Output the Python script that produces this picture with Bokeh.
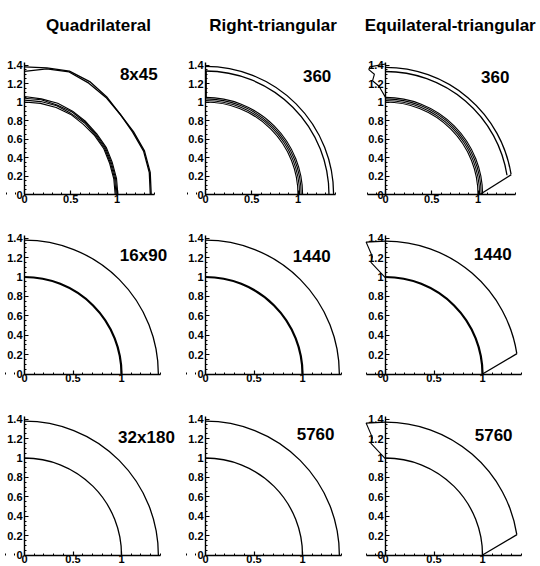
import numpy as np
from bokeh.plotting import figure
from bokeh.layouts import column, row
from bokeh.models import Range1d, FixedTicker, CustomJSTickFormatter
from bokeh.embed import file_html
from bokeh.resources import INLINE
from bokeh.core.properties import value

# ---------------- data ----------------
column_titles = ["Quadrilateral", "Right-triangular", "Equilateral-triangular"]
panel_labels = [["8x45", "360", "360"],
                ["16x90", "1440", "1440"],
                ["32x180", "5760", "5760"]]

x_ticks = [0, 0.5, 1]
x_tick_labels = ["0", "0.5", "1"]
y_ticks = [0, 0.2, 0.4, 0.6, 0.8, 1, 1.2, 1.4]
y_tick_labels = ["0", "0.2", "0.4", "0.6", "0.8", "1", "1.2", "1.4"]
x_minor_ticks = [-0.2, -0.1, 0, 0.1, 0.2, 0.3, 0.4, 0.5, 0.6, 0.7, 0.8, 0.9, 1.0, 1.1, 1.2, 1.3, 1.4]
y_minor_ticks = [0, 0.05, 0.1, 0.15, 0.2, 0.25, 0.3, 0.35, 0.4, 0.45, 0.5, 0.55, 0.6, 0.65,
                 0.7, 0.75, 0.8, 0.85, 0.9, 0.95, 1.0, 1.05, 1.1, 1.15, 1.2, 1.25, 1.3, 1.35, 1.4]

# Quadrilateral 8x45: contour radii read at these polar angles (degrees)
q8_angles = [90, 80, 70, 60, 50, 40, 30, 20, 10, 0]
q8_outer_a = [1.38, 1.39, 1.42, 1.41, 1.38, 1.35, 1.36, 1.38, 1.38, 1.37]
q8_outer_b = [1.33, 1.38, 1.41, 1.39, 1.37, 1.35, 1.35, 1.37, 1.37, 1.36]
q8_inner = [
    [1.06, 1.05, 1.05, 1.04, 1.03, 1.02, 1.02, 1.01, 1.01, 1.01],
    [1.04, 1.04, 1.03, 1.03, 1.02, 1.01, 1.01, 1.00, 1.00, 1.00],
    [1.02, 1.02, 1.02, 1.01, 1.01, 1.00, 1.00, 0.99, 0.99, 0.99],
    [1.00, 1.00, 1.00, 1.00, 0.99, 0.99, 0.99, 0.98, 0.98, 0.98],
]

# Right-triangular 360: contour rings and the contour running along the axis
rt360_outer_r = [1.335, 1.385]
rt360_inner_r = [1.0, 1.017, 1.034, 1.05]
rt360_wall_x = [0.006, 0.006]
rt360_wall_y = [1.05, 1.335]

# Equilateral-triangular 360
eq360_outer_r = [1.33, 1.375]
eq360_outer_start = [9.0, 9.2]
eq360_inner_r = [1.0, 1.017, 1.034, 1.05]
eq360_edge_x = [1.02, 1.36]
eq360_edge_y = [0.0, 0.215]
eq360_zig_x = [0.0, -0.17, -0.18, -0.12, -0.14, -0.07, 0.0]
eq360_zig_y = [1.41, 1.38, 1.35, 1.30, 1.23, 1.17, 1.05]

# finer meshes
fine_inner_r = [1.0]
fine_outer_r = [1.38]
eq_fine_outer_r = [1.37]
eq_fine_outer_start = [8.8]
eq_fine_edge_x = [1.0, 1.355]
eq_fine_edge_y = [0.0, 0.21]
eq_fine_zig_x = [0.0, -0.2, -0.135, -0.15, 0.0]
eq_fine_zig_y = [1.37, 1.36, 1.21, 1.15, 0.99]

# ---------------- layout geometry ----------------
COL_W = 180
ROW_H = [208, 180, 178]
ROW_SCALE = [92.5, 97.0, 97.0]        # pixels per data unit
AXIS_FROM_TOP = [194, 165.5, 166.5]   # pixel offset of y=0 inside each figure
AXIS_FROM_LEFT = [24, 25, 25]         # pixel offset of x=0 inside each figure

label_pos = [[(1.44, 1.30), (1.36, 1.28), (1.34, 1.27)],
             [(1.47, 1.22), (1.29, 1.22), (1.30, 1.24)],
             [(1.55, 1.21), (1.33, 1.25), (1.31, 1.24)]]
title_pos = [(0.80, 1.83), (0.73, 1.83), (0.70, 1.83)]

FONT = "Liberation Sans"
LW = 1.3


def base_figure(r, c):
    s = ROW_SCALE[r]
    x0 = AXIS_FROM_LEFT[c]
    y0 = AXIS_FROM_TOP[r]
    p = figure(width=COL_W, height=ROW_H[r], output_backend="svg", toolbar_location=None,
               x_range=Range1d(-x0 / s, (COL_W - x0) / s),
               y_range=Range1d(-(ROW_H[r] - y0) / s, y0 / s),
               min_border=0, min_border_left=0, min_border_right=0,
               min_border_top=0, min_border_bottom=0)
    p.outline_line_color = None
    p.xgrid.visible = False
    p.ygrid.visible = False
    p.background_fill_color = "white"
    p.border_fill_color = "white"

    fmt = CustomJSTickFormatter(code="return (Math.round(tick*100)/100).toString();")
    for ax, ticks, labels, minor in ((p.xaxis[0], x_ticks, x_tick_labels, x_minor_ticks),
                                     (p.yaxis[0], y_ticks, y_tick_labels, y_minor_ticks)):
        ax.fixed_location = 0
        ax.ticker = FixedTicker(ticks=ticks, minor_ticks=minor)
        ax.formatter = fmt
        ax.major_label_overrides = dict(zip([float(t) for t in ticks], labels))
        ax.major_tick_in = 4
        ax.major_tick_out = 0
        ax.minor_tick_in = 2
        ax.minor_tick_out = 0
        ax.axis_line_width = 1.4
        ax.major_tick_line_width = 1.2
        ax.minor_tick_line_width = 1.0
        ax.axis_line_color = "black"
        ax.major_tick_line_color = "black"
        ax.minor_tick_line_color = "black"
        ax.major_label_text_font = FONT
        ax.major_label_text_font_style = "bold"
        ax.major_label_text_font_size = "11px"
        ax.major_label_text_color = "black"
    p.xaxis[0].major_label_standoff = 0
    p.yaxis[0].major_label_standoff = 2
    p.xaxis[0].bounds = (-0.2, 1.4) if c == 2 else (0, 1.4)
    p.yaxis[0].bounds = (0, 1.43)

    lx, ly = label_pos[r][c]
    p.text(x=[lx], y=[ly], text=[panel_labels[r][c]], text_font=value(FONT),
           text_font_style="bold", text_font_size="17px", text_align="right",
           text_baseline="middle", text_color="black")
    if r == 0:
        tx, ty = title_pos[c]
        p.text(x=[tx], y=[ty], text=[column_titles[c]], text_font=value(FONT),
               text_font_style="bold", text_font_size="17px", text_align="center",
               text_baseline="alphabetic", text_color="black")
    return p


def polar_line(p, angles, radii, width=LW):
    a = np.radians(np.array(angles, dtype=float))
    rr = np.array(radii, dtype=float)
    p.line(rr * np.cos(a), rr * np.sin(a), line_color="black", line_width=width)


def rings(p, radii, start=0.0, width=LW):
    starts = start if isinstance(start, list) else [start] * len(radii)
    for rad, st in zip(radii, starts):
        p.arc(x=0, y=0, radius=rad, start_angle=float(np.radians(st)),
              end_angle=float(np.radians(90.0)),
              line_color="black", line_width=width)


figs = []
for r in range(3):
    row_figs = []
    for c in range(3):
        p = base_figure(r, c)
        if r == 0 and c == 0:
            polar_line(p, q8_angles, q8_outer_a)
            polar_line(p, q8_angles, q8_outer_b)
            for inner in q8_inner:
                polar_line(p, q8_angles, inner, width=1.1)
        elif r == 0 and c == 1:
            rings(p, rt360_outer_r)
            rings(p, rt360_inner_r, width=1.1)
            p.line(rt360_wall_x, rt360_wall_y, line_color="black", line_width=1.6)
        elif r == 0 and c == 2:
            rings(p, eq360_outer_r, start=eq360_outer_start)
            rings(p, eq360_inner_r, width=1.1)
            p.line(eq360_edge_x, eq360_edge_y, line_color="black", line_width=LW)
            p.line(eq360_zig_x, eq360_zig_y, line_color="black", line_width=1.1)
        elif c in (0, 1):
            rings(p, fine_outer_r)
            rings(p, fine_inner_r, width=2.2 if r == 1 else LW)
        else:
            rings(p, eq_fine_outer_r, start=eq_fine_outer_start)
            rings(p, fine_inner_r, width=2.2 if r == 1 else LW)
            p.line(eq_fine_edge_x, eq_fine_edge_y, line_color="black", line_width=LW)
            p.line(eq_fine_zig_x, eq_fine_zig_y, line_color="black", line_width=1.1)
        row_figs.append(p)
    figs.append(row(*row_figs, spacing=0))

layout = column(*figs, spacing=0)

open("out.html", "w").write(file_html(layout, INLINE))
